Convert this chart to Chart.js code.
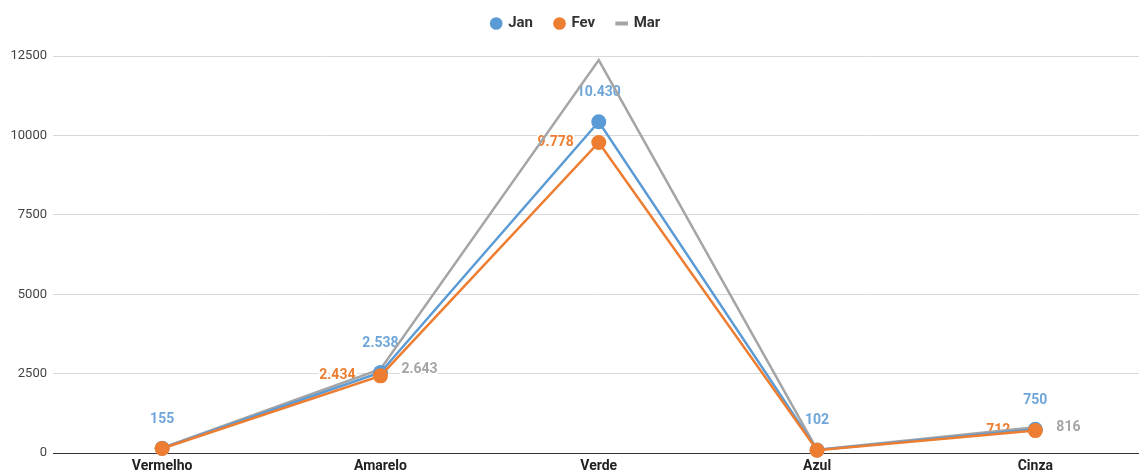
<!DOCTYPE html>
<html>
<head>
<meta charset="utf-8">
<script src="https://cdn.jsdelivr.net/npm/chart.js@4.4.0/dist/chart.umd.min.js"></script>
<style>
html, body { margin: 0; padding: 0; background: #fff; overflow: hidden; }
#wrap { width: 1152px; height: 474px; }
</style>
</head>
<body>
<div id="wrap"><canvas id="lineChart" width="1152" height="474"></canvas></div>
<script>
// dados
const categories = ['Vermelho', 'Amarelo', 'Verde', 'Azul', 'Cinza'];
const janValues = [155, 2538, 10430, 102, 750];
const fevValues = [148, 2434, 9778, 95, 712];
const marValues = [165, 2643, 12370, 110, 816];
const yTicks = [0, 2500, 5000, 7500, 10000, 12500];

// posição do rótulo de cada ponto (null = sem rótulo)
const janLabelPos = ['top', 'top', 'top', 'top', 'top'];
const fevLabelPos = [null, 'left', 'left', null, 'left'];
const marLabelPos = [null, 'right', null, null, 'right'];

const blue = '#5B9BD5';
const orange = '#ED7D31';
const gray = '#A5A5A5';

function fmt(v) {
    return String(v).replace(/\B(?=(\d{3})+(?!\d))/g, '.');
}

// rótulos de valor
const valueLabels = {
    id: 'valueLabels',
    beforeDatasetsDraw(chart) {
        const ctx = chart.ctx;
        ctx.save();
        ctx.font = 'bold 14px Roboto';
        ctx.textBaseline = 'middle';
        chart.data.datasets.forEach((ds, i) => {
            const meta = chart.getDatasetMeta(i);
            meta.data.forEach((pt, j) => {
                const pos = ds.labelPos[j];
                if (!pos) return;
                let x = pt.x, y = pt.y;
                if (pos === 'top') { ctx.textAlign = 'center'; y -= 29; }
                else if (pos === 'left') { ctx.textAlign = 'right'; x -= 25; }
                else { ctx.textAlign = 'left'; x += 21; }
                const t = fmt(ds.data[j]);
                ctx.lineWidth = 4;
                ctx.strokeStyle = '#fff';
                ctx.strokeText(t, x, y);
                ctx.fillStyle = ds.labelColor;
                ctx.fillText(t, x, y);
            });
        });
        ctx.restore();
    }
};

// altura fixa da legenda
const legendHeight = {
    id: 'legendHeight',
    beforeInit(chart) {
        const origFit = chart.legend.fit;
        chart.legend.fit = function () {
            origFit.bind(chart.legend)();
            this.height = 62;
        };
    }
};

const ctx = document.getElementById('lineChart').getContext('2d');
new Chart(ctx, {
    type: 'line',
    data: {
        labels: categories,
        datasets: [
            {
                label: 'Jan',
                data: janValues,
                borderColor: blue,
                backgroundColor: blue,
                pointBackgroundColor: blue,
                borderWidth: 2.5,
                pointRadius: 7.5,
                pointBorderWidth: 0,
                labelPos: janLabelPos,
                labelColor: '#6FA6DA',
                order: 1
            },
            {
                label: 'Fev',
                data: fevValues,
                borderColor: orange,
                backgroundColor: orange,
                pointBackgroundColor: orange,
                borderWidth: 2.5,
                pointRadius: 7.5,
                pointBorderWidth: 0,
                labelPos: fevLabelPos,
                labelColor: orange,
                order: 0
            },
            {
                label: 'Mar',
                data: marValues,
                borderColor: gray,
                backgroundColor: gray,
                borderWidth: 2.5,
                pointRadius: 0,
                labelPos: marLabelPos,
                labelColor: gray,
                order: 2
            }
        ]
    },
    options: {
        responsive: false,
        animation: false,
        clip: false,
        layout: { padding: { top: -6, left: 0, right: 0, bottom: -6 } },
        elements: { line: { tension: 0 } },
        plugins: {
            tooltip: { enabled: false },
            legend: {
                position: 'top',
                labels: {
                    usePointStyle: true,
                    boxWidth: 9,
                    boxHeight: 9,
                    padding: 22,
                    color: '#333',
                    font: { family: 'Roboto', size: 15, weight: 'bold' },
                    generateLabels(chart) {
                        return chart.data.datasets.map((ds, i) => ({
                            text: ds.label,
                            fillStyle: ds.borderColor,
                            strokeStyle: ds.borderColor,
                            lineWidth: i === 2 ? 4 : 0,
                            pointStyle: i === 2 ? 'line' : 'circle',
                            hidden: false,
                            datasetIndex: i,
                            fontColor: '#333'
                        }));
                    }
                }
            }
        },
        scales: {
            x: {
                offset: true,
                grid: { display: false, drawTicks: false },
                border: { display: true, color: '#333', width: 1 },
                ticks: {
                    padding: 5,
                    color: '#222',
                    font: { family: 'Roboto', size: 14, weight: 'bold' }
                }
            },
            y: {
                min: yTicks[0],
                max: yTicks[yTicks.length - 1],
                afterFit(scale) { scale.width = 53; },
                afterBuildTicks(scale) { scale.ticks = yTicks.map(v => ({ value: v })); },
                border: { display: false },
                grid: {
                    drawTicks: false,
                    color: c => c.tick && c.tick.value === 0 ? 'rgba(0,0,0,0)' : '#d9d9d9'
                },
                ticks: {
                    padding: 6,
                    color: '#444',
                    font: { family: 'Roboto', size: 13 },
                    callback: v => String(v)
                }
            }
        }
    },
    plugins: [valueLabels, legendHeight]
});
</script>
</body>
</html>
